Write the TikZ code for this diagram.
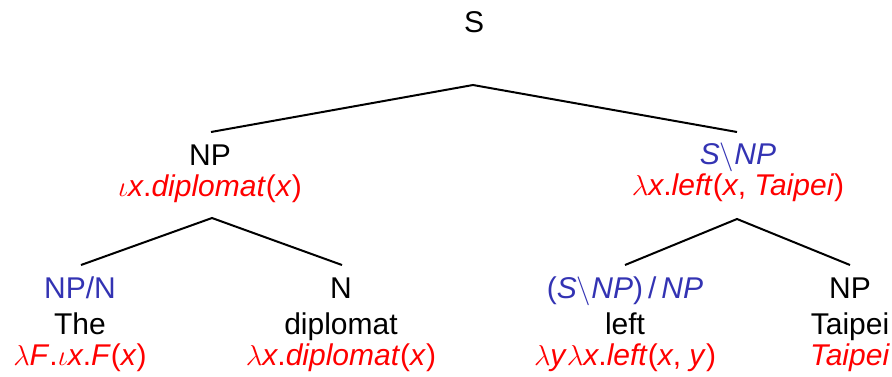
\documentclass[tikz,border=0pt]{standalone}
\usepackage{fontspec}
\setmainfont{Liberation Sans}
\definecolor{catblue}{RGB}{51,51,179}
\definecolor{semred}{RGB}{255,0,0}
\newcommand\lam{$\lambda$}
\newcommand\io{$\iota$}
\newcommand\bsl{$\backslash$}
\newcommand\mi[1]{\textit{#1}}
\newcommand\mF{\textit{F\/}}
\begin{document}
\begin{tikzpicture}[x=0.5pt,y=-0.5pt,
  every node/.style={inner sep=0pt,anchor=base,font=\fontsize{15}{18}\selectfont},
  cat/.style={text=catblue},
  word/.style={text=black},
  sem/.style={text=semred},
  branch/.style={draw=black,line width=1pt}]
\useasboundingbox (0,0) rectangle (892,376);

% root
\node[word] (s) at (474,32) {S};

% subject NP
\node[word] (np) at (210,165) {NP};
\node[sem] (npsem) at (210,196) {\io\mi{x}.\mi{diplomat}(\mi{x})};

% verb phrase S\NP
\node[cat] (vp) at (738,164) {\mi{S}\bsl\mi{NP}};
\node[sem] (vpsem) at (738,195) {\lam\mi{x}.\mi{left}(\mi{x}, \mi{Taipei})};

% leaves
\node[cat] (det) at (80,298) {NP/N};
\node[word] (detw) at (80,334) {The};
\node[sem] (detsem) at (80,365) {\lam\mF.\io\mi{x}.\mF(\mi{x})};

\node[word] (n) at (341,298) {N};
\node[word] (nw) at (341,334) {diplomat};
\node[sem] (nsem) at (341,365) {\lam\mi{x}.\mi{diplomat}(\mi{x})};

\node[cat] (tv) at (625,298) {(\mi{S}\bsl\mi{NP})\,/\,\mi{NP}};
\node[word] (tvw) at (625,334) {left};
\node[sem] (tvsem) at (625,365) {\lam\mi{y}\lam\mi{x}.\mi{left}(\mi{x}, \mi{y})};

\node[word] (obj) at (850,298) {NP};
\node[word] (objw) at (850,334) {Taipei};
\node[sem] (objsem) at (850,365) {\mi{Taipei}};

% branch points
\coordinate (s-fork) at (473,85);
\coordinate (np-top) at (211,132);
\coordinate (vp-top) at (737,132);
\coordinate (np-fork) at (212,218);
\coordinate (det-top) at (81,265);
\coordinate (n-top) at (342,265);
\coordinate (vp-fork) at (737,219);
\coordinate (tv-top) at (625,265);
\coordinate (obj-top) at (850,265);

\draw[branch] (np-top) -- (s-fork) -- (vp-top);
\draw[branch] (det-top) -- (np-fork) -- (n-top);
\draw[branch] (tv-top) -- (vp-fork) -- (obj-top);
\end{tikzpicture}
\end{document}
